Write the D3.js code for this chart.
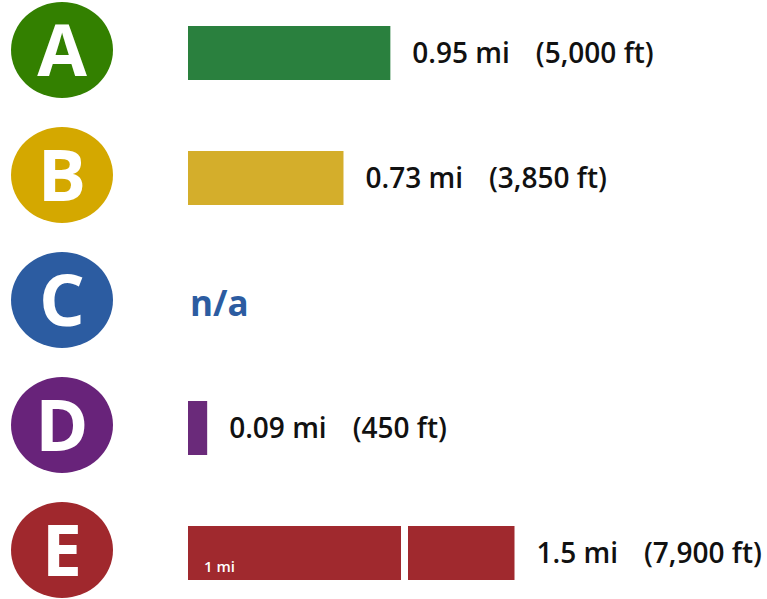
<!DOCTYPE html>
<html>
<head>
<meta charset="utf-8">
<script src="https://cdn.jsdelivr.net/npm/d3@7"></script>
<style>
  html, body { margin: 0; padding: 0; background: #fff; }
  svg { display: block; }
</style>
</head>
<body>
<svg id="chart" width="767" height="599"></svg>
<script>
// ---- data ----
const lines = ["A", "B", "C", "D", "E"];
const miles = [0.95, 0.73, null, 0.09, 1.5];
const feet = [5000, 3850, null, 450, 7900];
const circleColors = ["#338000", "#d4a800", "#2c5ca1", "#68237a", "#a0282d"];
const barColors = ["#2a803e", "#d4ae2b", "#2c5ca1", "#6a2a7a", "#a0292e"];
const missingLabel = "n/a";
const segmentLabel = "1 mi";

// ---- layout ----
const svg = d3.select("#chart");
const font = "'Open Sans', 'Noto Sans', sans-serif";

const y = d3.scaleBand().domain(lines).range([-12.5, 612.5]).paddingInner(0).paddingOuter(0);
const x = d3.scaleLinear().domain([0, 1]).range([188, 401]);
const barH = 54;
const gap = 7;
const cx = 62, rx = 51, ry = 48;

const rows = svg.selectAll("g.row")
  .data(lines.map((l, i) => ({ line: l, mi: miles[i], ft: feet[i], cc: circleColors[i], bc: barColors[i] })))
  .join("g")
  .attr("class", "row")
  .attr("transform", d => `translate(0,${y(d.line) + y.bandwidth() / 2})`);

// circle badges
rows.append("ellipse")
  .attr("cx", cx).attr("cy", 0).attr("rx", rx).attr("ry", ry)
  .attr("fill", d => d.cc);

const letterSize = 72;
rows.append("text")
  .attr("x", cx).attr("y", letterSize * 0.357)
  .attr("text-anchor", "middle")
  .attr("font-family", font).attr("font-weight", 700)
  .attr("font-size", letterSize)
  .attr("fill", "#fff")
  .text(d => d.line);

const off = 3; // content center offset relative to badge center

rows.each(function(d) {
  const g = d3.select(this);
  if (d.mi == null) {
    g.append("text")
      .attr("x", x(0) + 2).attr("y", off + 13)
      .attr("font-family", font).attr("font-weight", 700)
      .attr("font-size", 35).attr("fill", d.bc)
      .text(missingLabel);
    return;
  }
  // split into whole-mile segments
  const segs = [];
  let rem = d.mi, start = 0, k = 0;
  while (rem > 1e-9) {
    const len = Math.min(1, rem);
    segs.push({ s: start, e: start + len, k });
    start += len; rem -= len; k++;
  }
  let endX = 0;
  segs.forEach(s => {
    const x0 = x(s.s) + s.k * gap;
    const w = x(s.e) - x(s.s);
    g.append("rect")
      .attr("x", x0).attr("y", off - barH / 2)
      .attr("width", w).attr("height", barH)
      .attr("fill", d.bc);
    endX = x0 + w;
  });
  if (segs.length > 1) {
    g.append("text")
      .attr("x", x(0) + 16).attr("y", off + barH / 2 - 8)
      .attr("font-family", font).attr("font-weight", 600)
      .attr("font-size", 15).attr("fill", "#fff")
      .text(segmentLabel);
  }
  const t = g.append("text")
    .attr("x", endX + 22).attr("y", off + 10)
    .attr("font-family", font).attr("font-weight", 600)
    .attr("font-size", 28).attr("fill", "#111");
  t.append("tspan").text(`${d.mi} mi`);
  t.append("tspan").attr("dx", 26).text(`(${d3.format(",")(d.ft)} ft)`);
});
</script>
</body>
</html>
